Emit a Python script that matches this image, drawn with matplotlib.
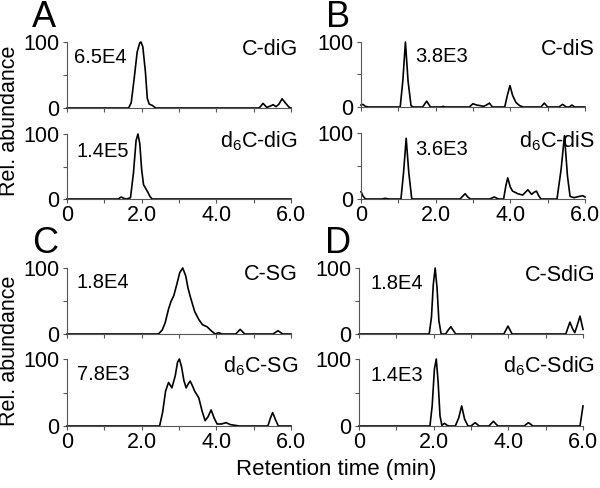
import numpy as np
import matplotlib
matplotlib.use("Agg")
import matplotlib.pyplot as plt

plt.rcParams['font.family'] = ['Liberation Sans', 'DejaVu Sans']
plt.rcParams['mathtext.fontset'] = 'custom'
plt.rcParams['mathtext.rm'] = 'Liberation Sans'
plt.rcParams['mathtext.it'] = 'Liberation Sans'

# Chromatogram traces (retention time in min, relative abundance in %)
cdig_t = [0, 1.65, 1.72, 1.8, 1.88, 1.95, 1.98, 2.03, 2.1, 2.15, 2.2, 2.28, 2.38,
          5.15, 5.25, 5.35, 5.45, 5.52, 5.6, 5.68, 5.76, 5.86, 5.95, 6.0]
cdig_y = [0, 0, 8, 45, 85, 99, 100, 93, 55, 15, 6, 4, 0,
          0, 7, 1, 3, 5, 2, 6, 14, 7, 1, 0]

d6cdig_t = [0, 1.38, 1.42, 1.46, 1.52, 1.6, 1.7, 1.78, 1.85, 1.9, 1.95, 2.0, 2.05,
            2.1, 2.17, 2.22, 2.28, 6.0]
d6cdig_y = [0, 0, 2, 3, 1, 0, 2, 40, 90, 100, 85, 45, 22,
            17, 10, 4, 0, 0]

cdis_t = [0, 0.05, 0.12, 0.2, 1.05, 1.12, 1.19, 1.26, 1.34, 1.4, 1.65, 1.76, 1.86,
          2.15, 2.2, 2.25, 2.9, 3.0, 3.1, 3.2, 3.28, 3.36, 3.44, 3.52, 3.85, 3.92,
          3.99, 4.06, 4.15, 4.25, 4.35, 4.82, 4.91, 5.0, 5.3, 5.4, 5.5, 5.58, 5.65,
          5.72, 6.0]
cdis_y = [3, 4, 1, 0, 0, 40, 100, 40, 2, 0, 0, 9, 0,
          0, 1, 0, 0, 5, 3, 2, 1, 3, 6, 0, 0, 18,
          33, 18, 7, 2, 0, 0, 6, 0, 0, 4, 0, 0, 3,
          0, 0]

d6cdis_t = [0, 0.06, 0.12, 0.55, 0.65, 0.75, 1.07, 1.14, 1.21, 1.28, 1.36, 2.65,
            2.72, 2.79, 2.86, 2.93, 3.45, 3.57, 3.68, 3.82, 3.88, 3.93, 4.0, 4.06,
            4.2, 4.33, 4.4, 4.47, 4.57, 4.63, 4.7, 4.76, 4.82, 5.25, 5.36, 5.45,
            5.53, 5.6, 5.7, 5.85, 5.94, 6.0]
d6cdis_y = [11, 4, 0, 0, 1, 0, 0, 40, 92, 40, 0, 0,
            4, 8, 3, 0, 0, 3, 0, 0, 20, 32, 18, 12,
            8, 6, 10, 14, 7, 10, 12, 5, 0, 0, 45, 96,
            35, 4, 2, 4, 5, 3]

csg_t = [0, 2.45, 2.55, 2.63, 2.72, 2.79, 2.86, 2.94, 3.02, 3.1, 3.18, 3.24, 3.3,
         3.42, 3.53, 3.63, 3.75, 3.88, 3.97, 4.06, 4.15, 4.52, 4.64, 4.76, 5.52,
         5.65, 5.78, 6.0]
csg_y = [0, 0, 6, 17, 38, 50, 58, 75, 93, 100, 88, 70, 57,
         34, 22, 14, 11, 4, 0, 2, 0, 0, 7, 0, 0,
         5, 0, 0]

d6csg_t = [0, 2.48, 2.56, 2.64, 2.72, 2.81, 2.9, 2.96, 3.01, 3.07, 3.13, 3.19, 3.25,
           3.3, 3.36, 3.42, 3.53, 3.62, 3.7, 3.78, 3.86, 3.94, 4.02, 4.14, 4.26,
           4.38, 4.5, 4.62, 5.38, 5.45, 5.51, 5.58, 5.66, 6.0]
d6csg_y = [0, 0, 20, 52, 65, 57, 75, 95, 100, 88, 68, 57, 63,
           67, 60, 52, 42, 22, 8, 14, 24, 12, 3, 3, 5,
           2, 1, 0, 0, 12, 20, 10, 0, 0]

csdig_t = [0, 1.88, 1.94, 1.99, 2.04, 2.09, 2.14, 2.2, 2.32, 2.39, 2.46, 2.53, 2.59,
           3.88, 3.99, 4.1, 5.54, 5.6, 5.65, 5.72, 5.78, 5.85, 5.92, 6.0]
csdig_y = [0, 0, 25, 75, 100, 70, 20, 0, 0, 6, 11, 5, 0,
           0, 12, 0, 0, 10, 18, 8, 2, 14, 27, 7]

d6csdig_t = [0, 1.9, 1.96, 2.02, 2.07, 2.12, 2.17, 2.22, 2.29, 2.36, 2.42, 2.58,
             2.67, 2.75, 2.83, 2.92, 3.0, 3.11, 3.22, 3.48, 3.6, 3.72, 4.42, 4.54,
             4.66, 5.92, 6.0]
d6csdig_y = [0, 0, 30, 85, 100, 65, 15, 1, 4, 1, 0, 0,
             12, 30, 10, 0, 0, 5, 0, 0, 7, 0, 0, 5,
             0, 0, 30]

amounts = ['6.5E4', '1.4E5', '3.8E3', '3.6E3', '1.8E4', '7.8E3', '1.8E4', '1.4E3']
names = ['C-diG', 'd$_6$C-diG', 'C-diS', 'd$_6$C-diS',
         'C-SG', 'd$_6$C-SG', 'C-SdiG', 'd$_6$C-SdiG']

W, H = 600, 488
fig = plt.figure(figsize=(W / 100, H / 100), dpi=100)


def box(x0, y0, x1, y1):
    return [x0 / W, 1 - y1 / H, (x1 - x0) / W, (y1 - y0) / H]


def ftext(x, y, s, **kw):
    fig.text(x / W, 1 - y / H, s, **kw)


# (axes box in px, trace, amount label xy, name label xy)
panels = [
    (box(67, 42, 291, 108), cdig_t, cdig_y, (74, 63), (298, 55), False),
    (box(67, 134, 291, 199), d6cdig_t, d6cdig_y, (77, 157), (298, 147), True),
    (box(361, 42, 585, 107), cdis_t, cdis_y, (415, 62), (595, 55), False),
    (box(361, 133, 585, 199), d6cdis_t, d6cdis_y, (415, 155), (595, 147), True),
    (box(67, 268, 291, 334), csg_t, csg_y, (77, 288), (298, 280), False),
    (box(67, 359, 291, 426), d6csg_t, d6csg_y, (77, 380), (298, 372), True),
    (box(359, 268, 583, 334), csdig_t, csdig_y, (370, 289), (595, 281), False),
    (box(359, 359, 583, 426), d6csdig_t, d6csdig_y, (370, 381), (595, 372), True),
]

for i, (rect, t, y, apos, npos, bottom) in enumerate(panels):
    ax = fig.add_axes(rect)
    ax.plot(t, y, color='black', lw=1.2, clip_on=False, solid_joinstyle='round')
    ax.set_xlim(0, 6)
    ax.set_ylim(0, 100)
    for s in ['top', 'right']:
        ax.spines[s].set_visible(False)
    for s in ['left', 'bottom']:
        ax.spines[s].set_color('#555555')
        ax.spines[s].set_linewidth(0.8)
    ax.set_xticks(np.arange(0, 7, 1))
    if bottom:
        ax.set_xticklabels(['0', '', '2.0', '', '4.0', '', '6.0'])
    else:
        ax.set_xticklabels([])
    ax.set_yticks([0, 50, 100])
    ax.set_yticklabels(['0', '', '100'])
    ax.tick_params(direction='out', length=3, width=0.8, color='#555555',
                   labelsize=15.5, pad=1)
    ax.tick_params(axis='y', pad=2.5)
    ax.set_zorder(1)
    ax.patch.set_alpha(0)
    ftext(apos[0], apos[1], amounts[i], fontsize=14.5, va='baseline')
    ftext(npos[0], npos[1], names[i], fontsize=15.5, va='baseline', ha='right')

# panel letters
for letter, (lx, ly) in zip('ABCD', [(32, 27), (326, 27), (32, 253), (325, 253)]):
    ftext(lx, ly, letter, fontsize=26, va='baseline')

ftext(10, 121, 'Rel. abundance', fontsize=15.5, rotation=90, ha='center', va='center')
ftext(10, 351, 'Rel. abundance', fontsize=15.5, rotation=90, ha='center', va='center')
ftext(336, 470, 'Retention time (min)', fontsize=16, ha='center', va='center')

fig.savefig('out.png', dpi=100)
